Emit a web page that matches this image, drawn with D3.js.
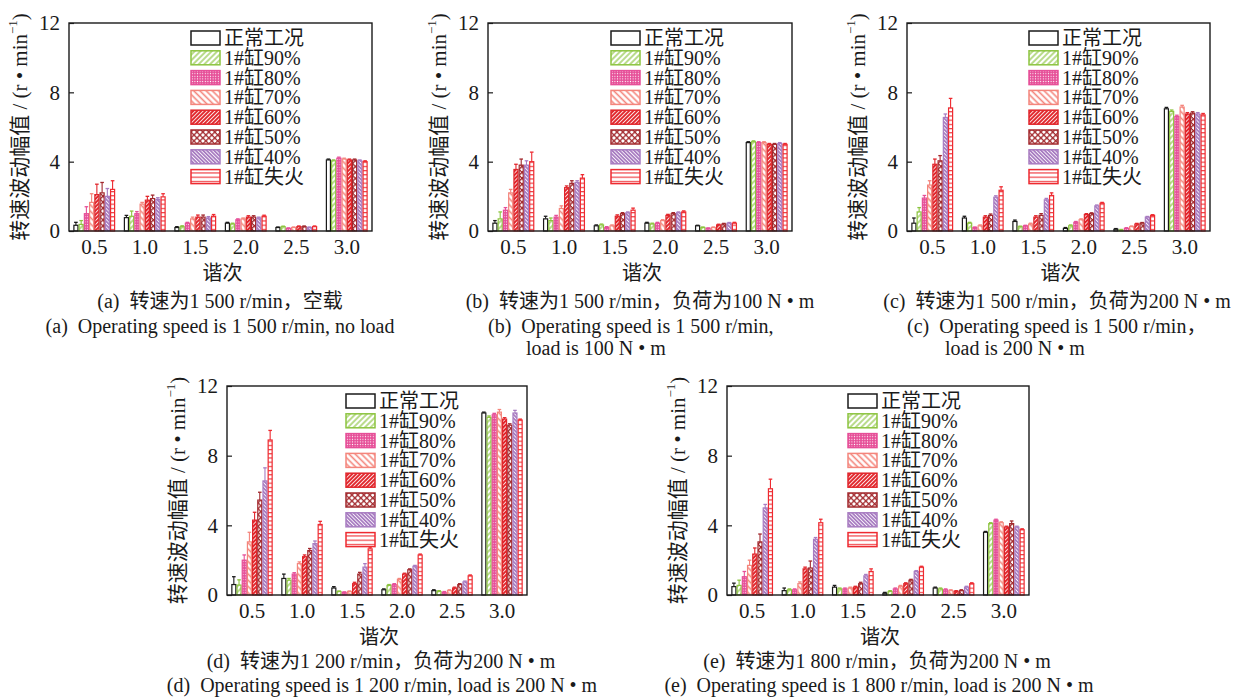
<!DOCTYPE html>
<html>
<head>
<meta charset="utf-8">
<script src="https://cdn.jsdelivr.net/npm/d3@7"></script>
<style>
  html, body { margin: 0; padding: 0; background: #fff; }
  svg text { font-family: "Liberation Serif", "Times New Roman", "Noto Sans CJK SC", serif; fill: #1a1a1a; white-space: pre; }
</style>
</head>
<body>
<svg id="chart" width="1247" height="698"></svg>
<script>
// Harmonic orders on the x axis and the operating conditions (series)
const harmonics = ["0.5", "1.0", "1.5", "2.0", "2.5", "3.0"];
const conditions = ["正常工况", "1#缸90%", "1#缸80%", "1#缸70%", "1#缸60%", "1#缸50%", "1#缸40%", "1#缸失火"];
const yTicks = [0, 4, 8, 12];

// Speed fluctuation amplitude (r/min), one row per harmonic, one column per condition
// (a) 1 500 r/min, no load
const valuesA = [
  [0.33, 0.38, 1.0, 1.65, 2.1, 2.2, 2.0, 2.4],
  [0.77, 0.85, 1.0, 1.55, 1.78, 1.87, 1.82, 1.97],
  [0.2, 0.25, 0.45, 0.7, 0.8, 0.8, 0.75, 0.85],
  [0.45, 0.4, 0.65, 0.7, 0.8, 0.8, 0.75, 0.85],
  [0.2, 0.25, 0.15, 0.2, 0.25, 0.25, 0.2, 0.25],
  [4.1, 4.05, 4.2, 4.15, 4.1, 4.1, 4.05, 4.0]
];
const errorsA = [
  [0.17, 0.22, 0.4, 0.5, 0.6, 0.6, 0.45, 0.5],
  [0.13, 0.3, 0.12, 0.1, 0.22, 0.2, 0.1, 0.18],
  [0.05, 0.05, 0.05, 0.1, 0.12, 0.12, 0.08, 0.1],
  [0.05, 0.05, 0.05, 0.05, 0.08, 0.08, 0.05, 0.06],
  [0.03, 0.03, 0.03, 0.03, 0.04, 0.04, 0.03, 0.04],
  [0.05, 0.05, 0.06, 0.05, 0.05, 0.05, 0.05, 0.05]
];
// (b) 1 500 r/min, 100 N·m
const valuesB = [
  [0.45, 0.7, 1.2, 2.2, 3.55, 3.8, 3.8, 4.0],
  [0.7, 0.6, 0.8, 1.3, 2.5, 2.75, 2.8, 3.05],
  [0.3, 0.35, 0.2, 0.3, 0.85, 1.0, 1.05, 1.2],
  [0.45, 0.4, 0.45, 0.6, 0.9, 1.0, 1.05, 1.1],
  [0.3, 0.2, 0.15, 0.2, 0.35, 0.4, 0.45, 0.45],
  [5.1, 5.15, 5.1, 5.1, 5.0, 5.0, 5.05, 5.0]
];
const errorsB = [
  [0.15, 0.4, 0.15, 0.2, 0.3, 0.35, 0.25, 0.55],
  [0.15, 0.15, 0.1, 0.15, 0.1, 0.15, 0.1, 0.2],
  [0.05, 0.05, 0.05, 0.05, 0.08, 0.06, 0.05, 0.12],
  [0.05, 0.05, 0.05, 0.05, 0.06, 0.06, 0.05, 0.06],
  [0.03, 0.03, 0.03, 0.03, 0.04, 0.04, 0.04, 0.05],
  [0.05, 0.05, 0.05, 0.05, 0.05, 0.05, 0.05, 0.05]
];
// (c) 1 500 r/min, 200 N·m
const valuesC = [
  [0.45, 1.1, 1.9, 2.65, 3.85, 4.05, 6.55, 7.1],
  [0.75, 0.45, 0.2, 0.3, 0.8, 0.9, 1.95, 2.35],
  [0.55, 0.25, 0.3, 0.4, 0.8, 0.9, 1.8, 2.05],
  [0.15, 0.3, 0.5, 0.65, 0.95, 1.0, 1.45, 1.6],
  [0.1, 0.05, 0.15, 0.25, 0.4, 0.45, 0.8, 0.9],
  [7.05, 6.9, 6.6, 7.15, 6.75, 6.8, 6.75, 6.7]
];
const errorsC = [
  [0.3, 0.25, 0.15, 0.25, 0.3, 0.3, 0.2, 0.55],
  [0.1, 0.05, 0.03, 0.05, 0.08, 0.08, 0.08, 0.2],
  [0.08, 0.03, 0.03, 0.05, 0.08, 0.1, 0.08, 0.15],
  [0.05, 0.05, 0.05, 0.05, 0.05, 0.05, 0.05, 0.05],
  [0.04, 0.04, 0.04, 0.04, 0.04, 0.04, 0.04, 0.04],
  [0.08, 0.08, 0.08, 0.1, 0.08, 0.08, 0.08, 0.08]
];
// (d) 1 200 r/min, 200 N·m
const valuesD = [
  [0.6, 0.57, 2.0, 3.05, 4.3, 5.45, 6.55, 8.9],
  [0.95, 0.85, 1.2, 1.8, 2.2, 2.55, 2.95, 4.05],
  [0.4, 0.2, 0.15, 0.2, 0.65, 1.2, 1.6, 2.65],
  [0.3, 0.55, 0.6, 0.9, 1.2, 1.45, 1.65, 2.3],
  [0.25, 0.2, 0.15, 0.25, 0.4, 0.6, 0.75, 1.1],
  [10.45, 10.2, 10.35, 10.5, 10.1, 9.75, 10.45, 10.05]
];
const errorsD = [
  [0.45, 0.3, 0.3, 0.55, 0.45, 0.45, 0.75, 0.55],
  [0.25, 0.1, 0.08, 0.1, 0.1, 0.12, 0.15, 0.18],
  [0.08, 0.03, 0.03, 0.03, 0.08, 0.1, 0.2, 0.1],
  [0.05, 0.05, 0.05, 0.05, 0.05, 0.05, 0.05, 0.05],
  [0.05, 0.05, 0.05, 0.05, 0.05, 0.05, 0.05, 0.05],
  [0.05, 0.08, 0.08, 0.15, 0.08, 0.08, 0.15, 0.05]
];
// (e) 1 800 r/min, 200 N·m
const valuesE = [
  [0.48, 0.55, 1.05, 1.7, 2.35, 3.05, 5.0, 6.1],
  [0.25, 0.3, 0.3, 0.65, 1.5, 1.55, 3.2, 4.15],
  [0.45, 0.35, 0.35, 0.4, 0.45, 0.65, 1.1, 1.35],
  [0.1, 0.2, 0.35, 0.5, 0.65, 0.85, 1.35, 1.6],
  [0.4, 0.35, 0.3, 0.25, 0.2, 0.25, 0.45, 0.65],
  [3.6, 4.1, 4.3, 4.15, 3.9, 4.1, 3.9, 3.75]
];
const errorsE = [
  [0.2, 0.3, 0.3, 0.3, 0.35, 0.45, 0.2, 0.55],
  [0.15, 0.05, 0.05, 0.1, 0.1, 0.4, 0.1, 0.2],
  [0.1, 0.05, 0.05, 0.05, 0.05, 0.08, 0.08, 0.15],
  [0.05, 0.05, 0.05, 0.05, 0.05, 0.05, 0.05, 0.05],
  [0.05, 0.05, 0.05, 0.05, 0.05, 0.05, 0.05, 0.05],
  [0.05, 0.05, 0.05, 0.05, 0.05, 0.15, 0.05, 0.05]
];

// Series colours
const colors = ["#1a1a1a", "#8cc43f", "#e64f98", "#f4857c", "#e1252b", "#a2282d", "#a87cc1", "#ee2a30"];

const svg = d3.select("#chart");
const defs = svg.append("defs");

// Fill patterns for each condition
function hatch(id, bg, line, width, spacing, angle) {
  const p = defs.append("pattern").attr("id", id)
    .attr("patternUnits", "userSpaceOnUse")
    .attr("width", spacing).attr("height", spacing)
    .attr("patternTransform", `rotate(${angle})`);
  p.append("rect").attr("width", spacing).attr("height", spacing).attr("fill", bg);
  p.append("line").attr("x1", spacing / 2).attr("x2", spacing / 2).attr("y1", -1).attr("y2", spacing + 1)
    .attr("stroke", line).attr("stroke-width", width);
}
function solidWhite(id) {
  defs.append("pattern").attr("id", id).attr("patternUnits", "userSpaceOnUse")
    .attr("width", 4).attr("height", 4)
    .append("rect").attr("width", 4).attr("height", 4).attr("fill", "#fff");
}
solidWhite("p0");
hatch("p1", "#fff", colors[1], 1.2, 4, 45);
{ // dots on pink
  const p = defs.append("pattern").attr("id", "p2").attr("patternUnits", "userSpaceOnUse")
    .attr("width", 2.6).attr("height", 2.6);
  p.append("rect").attr("width", 2.6).attr("height", 2.6).attr("fill", colors[2]);
  p.append("circle").attr("cx", 1.3).attr("cy", 1.3).attr("r", 0.6).attr("fill", "#fff");
}
hatch("p3", "#fff", colors[3], 1.6, 4.4, -45);
hatch("p4", colors[4], "#fff", 0.8, 2.8, 45);
{ // cross hatch on dark red
  const s = 4.2;
  const p = defs.append("pattern").attr("id", "p5").attr("patternUnits", "userSpaceOnUse")
    .attr("width", s).attr("height", s).attr("patternTransform", "rotate(45)");
  p.append("rect").attr("width", s).attr("height", s).attr("fill", "#fff");
  p.append("line").attr("x1", 0).attr("x2", 0).attr("y1", 0).attr("y2", s).attr("stroke", colors[5]).attr("stroke-width", 2.6);
  p.append("line").attr("x1", 0).attr("x2", s).attr("y1", 0).attr("y2", 0).attr("stroke", colors[5]).attr("stroke-width", 2.6);
}
hatch("p6", colors[6], "#fff", 0.8, 2.6, -45);
{ // horizontal lines
  const p = defs.append("pattern").attr("id", "p7").attr("patternUnits", "userSpaceOnUse")
    .attr("width", 4).attr("height", 4.2);
  p.append("rect").attr("width", 4).attr("height", 4.2).attr("fill", "#fff");
  p.append("line").attr("x1", -1).attr("x2", 5).attr("y1", 0.6).attr("y2", 0.6).attr("stroke", colors[7]).attr("stroke-width", 1.1);
}

const panels = [
  { values: valuesA, errors: errorsA, x: 69, y: 23, w: 303, h: 208,
    caption: [
      { t: "(a)  转速为1 500 r/min，空载", x: 220, y: 308, a: "middle" },
      { t: "(a)  Operating speed is 1 500 r/min, no load", x: 220, y: 333, a: "middle" }
    ] },
  { values: valuesB, errors: errorsB, x: 488, y: 23, w: 304, h: 208,
    caption: [
      { t: "(b)  转速为1 500 r/min，负荷为100 N • m", x: 640, y: 308, a: "middle" },
      { t: "(b)  Operating speed is 1 500 r/min,", x: 488, y: 333, a: "start" },
      { t: "load is 100 N • m", x: 526, y: 355, a: "start" }
    ] },
  { values: valuesC, errors: errorsC, x: 907, y: 23, w: 303, h: 208,
    caption: [
      { t: "(c)  转速为1 500 r/min，负荷为200 N • m", x: 1057, y: 308, a: "middle" },
      { t: "(c)  Operating speed is 1 500 r/min，", x: 907, y: 333, a: "start" },
      { t: "load is 200 N • m", x: 945, y: 355, a: "start" }
    ] },
  { values: valuesD, errors: errorsD, x: 227, y: 386, w: 300, h: 209,
    caption: [
      { t: "(d)  转速为1 200 r/min，负荷为200 N • m", x: 381, y: 668, a: "middle" },
      { t: "(d)  Operating speed is 1 200 r/min, load is 200 N • m", x: 382, y: 692, a: "middle" }
    ] },
  { values: valuesE, errors: errorsE, x: 727, y: 386, w: 302, h: 209,
    caption: [
      { t: "(e)  转速为1 800 r/min，负荷为200 N • m", x: 877, y: 668, a: "middle" },
      { t: "(e)  Operating speed is 1 800 r/min, load is 200 N • m", x: 879, y: 692, a: "middle" }
    ] }
];

panels.forEach(P => {
  const g = svg.append("g").attr("transform", `translate(${P.x},${P.y})`);
  const x0 = d3.scaleBand().domain(harmonics).range([0, P.w]).paddingInner(0.17).paddingOuter(0.085);
  const x1 = d3.scaleBand().domain(d3.range(conditions.length)).range([0, x0.bandwidth()]);
  const y = d3.scaleLinear().domain([0, 12]).range([P.h, 0]);

  // bars
  const groups = g.selectAll(".grp").data(harmonics).join("g")
    .attr("transform", h => `translate(${x0(h)},0)`);
  groups.each(function (h, hi) {
    const gg = d3.select(this);
    const rows = conditions.map((c, ci) => ({ ci, v: P.values[hi][ci], e: P.errors[hi][ci] }));
    // error bars (upper whisker)
    rows.forEach(r => {
      const cx = x1(r.ci) + x1.bandwidth() / 2;
      gg.append("line").attr("x1", cx).attr("x2", cx)
        .attr("y1", y(r.v)).attr("y2", y(r.v + r.e))
        .attr("stroke", colors[r.ci]).attr("stroke-width", 1.1);
      gg.append("line").attr("x1", cx - 1.8).attr("x2", cx + 1.8)
        .attr("y1", y(r.v + r.e)).attr("y2", y(r.v + r.e))
        .attr("stroke", colors[r.ci]).attr("stroke-width", 1.3);
    });
    gg.selectAll("rect.bar").data(rows).join("rect").attr("class", "bar")
      .attr("x", r => x1(r.ci) + 0.6)
      .attr("width", x1.bandwidth() - 1.2)
      .attr("y", r => y(r.v))
      .attr("height", r => y(0) - y(r.v))
      .attr("fill", r => `url(#p${r.ci})`)
      .attr("stroke", r => colors[r.ci])
      .attr("stroke-width", 1.2);
  });

  // frame
  g.append("rect").attr("width", P.w).attr("height", P.h)
    .attr("fill", "none").attr("stroke", "#1a1a1a").attr("stroke-width", 1.4);

  // y axis with inward ticks
  const yAxis = g.append("g").call(d3.axisLeft(y).tickValues(yTicks).tickSize(-5).tickPadding(9).tickFormat(d3.format("d")));
  yAxis.select(".domain").remove();
  yAxis.selectAll(".tick line").attr("stroke", "#1a1a1a").attr("stroke-width", 1.2);
  yAxis.selectAll("text").attr("font-size", 21).attr("fill", "#1a1a1a")
    .style("font-family", "'Liberation Serif', serif");

  // x axis labels
  const xAxis = g.append("g").attr("transform", `translate(0,${P.h})`)
    .call(d3.axisBottom(x0).tickSize(0).tickPadding(8));
  xAxis.select(".domain").remove();
  xAxis.selectAll("text").attr("font-size", 21).attr("fill", "#1a1a1a")
    .style("font-family", "'Liberation Serif', serif");

  // axis titles
  g.append("text").attr("x", P.w / 2 + 2).attr("y", P.h + 49)
    .attr("text-anchor", "middle").attr("font-size", 20).text("谐次");
  const yl = g.append("text")
    .attr("transform", `translate(-47,${P.h / 2}) rotate(-90)`)
    .attr("text-anchor", "middle").attr("dominant-baseline", "middle")
    .attr("font-size", 21);
  yl.append("tspan").text("转速波动幅值 / (r • min");
  yl.append("tspan").attr("dy", -8).attr("font-size", 13).text("−1");
  yl.append("tspan").attr("dy", 8).text(")");

  // legend
  const lg = g.append("g").attr("transform", `translate(${P.w - 181},${15})`);
  conditions.forEach((c, ci) => {
    const row = lg.append("g").attr("transform", `translate(0,${ci * 19.8})`);
    row.append("rect").attr("x", 0).attr("y", -7).attr("width", 29).attr("height", 14)
      .attr("fill", `url(#p${ci})`).attr("stroke", colors[ci]).attr("stroke-width", 1.5);
    row.append("text").attr("x", 33).attr("y", 0).attr("dominant-baseline", "central")
      .attr("font-size", 20).text(c);
  });

  // caption
  P.caption.forEach(l => {
    svg.append("text").attr("x", l.x).attr("y", l.y).attr("text-anchor", l.a)
      .attr("font-size", 20).text(l.t);
  });
});
</script>
</body>
</html>
